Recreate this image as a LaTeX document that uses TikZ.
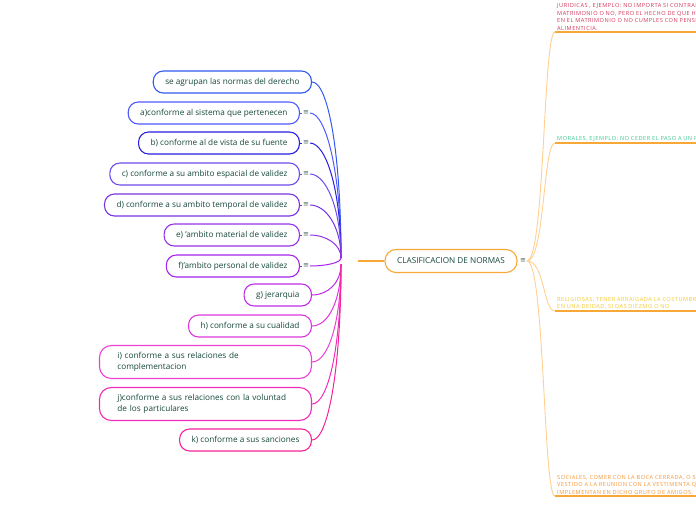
\documentclass[tikz,border=0pt]{standalone}
\usepackage{fontspec}
\setmainfont{Open Sans}
\newfontfamily\symfont{DejaVu Sans}
\newfontfamily\notefont[LetterSpace=9]{Open Sans}
\usetikzlibrary{positioning,calc}
\definecolor{txtgreen}{RGB}{22,72,60}
\definecolor{menugray}{RGB}{70,100,90}
\definecolor{ctrorange}{RGB}{247,168,55}
\definecolor{twigorange}{RGB}{255,208,145}
\definecolor{cSe}{RGB}{50,90,240}
\definecolor{cA}{RGB}{80,90,250}
\definecolor{cB}{RGB}{40,30,225}
\definecolor{cC}{RGB}{110,75,235}
\definecolor{cD}{RGB}{120,50,225}
\definecolor{cE}{RGB}{150,50,230}
\definecolor{cF}{RGB}{165,35,235}
\definecolor{cG}{RGB}{190,45,230}
\definecolor{cH}{RGB}{220,55,220}
\definecolor{cI}{RGB}{235,65,215}
\definecolor{cJ}{RGB}{240,45,185}
\definecolor{cK}{RGB}{245,35,150}
\definecolor{cJur}{RGB}{210,55,90}
\definecolor{cMor}{RGB}{60,200,140}
\definecolor{cRel}{RGB}{245,200,40}
\definecolor{cSoc}{RGB}{245,150,55}
\tikzset{
  branch/.style={draw=#1, line width=1.1pt, rounded corners=10pt, fill=white,
    inner xsep=12pt, minimum height=22pt, font=\fontsize{8.2}{10.5}\selectfont,
    text=txtgreen, align=left, anchor=east},
  twoline/.style={text width=176pt, inner xsep=18pt, minimum height=33pt, rounded corners=12pt},
  topic/.style={draw=ctrorange, line width=1.1pt, rounded corners=11pt, fill=white,
    minimum width=132pt, minimum height=23pt, font=\fontsize{8.2}{9}\selectfont, text=txtgreen},
  menu/.style={font=\symfont\fontsize{7}{7}\selectfont, text=menugray, inner sep=0.8pt},
  link/.style={line width=1pt, #1},
  stubln/.style={line width=1.2pt, ctrorange},
  twig/.style={line width=0.9pt, twigorange},
  noteline/.style={line width=1.6pt, ctrorange},
  note/.style={anchor=south west, inner xsep=2pt, inner ysep=1.5pt, text width=200pt,
    align=left, text=#1, font=\notefont\fontsize{5.6}{7.5}\selectfont},
}
\begin{document}
\begin{tikzpicture}[x=1pt,y=-1pt]
\useasboundingbox (0,0) rectangle (696,520);
\clip (0,0) rectangle (696,520);
% central topic
\node[topic] (clas) at (451,261) {CLASIFICACION DE NORMAS};
\node[menu, right=1.5pt of clas] (clasm) {≡};
\coordinate (hubup) at (341,258);
\coordinate (hubdn) at (341,264);
\coordinate (stub) at (358,261);
\draw[stubln] (stub) -- (clas.west);
% left branches
\node[branch=cSe] (se) at (312,82) {se agrupan las normas del derecho};
\node[branch=cA] (ca) at (300,113) {a)conforme al sistema que pertenecen};
\node[branch=cB] (cb) at (300,143) {b) conforme al de vista de su fuente};
\node[branch=cC] (cc) at (300,174) {c) conforme a su ambito espacial de validez};
\node[branch=cD] (cd) at (300,205) {d) conforme a su ambito temporal de validez};
\node[branch=cE] (ce) at (300,235) {e) 'ambito material de validez};
\node[branch=cF] (cf) at (300,266) {f)'ambito personal de validez};
\node[branch=cG] (cg) at (312,295) {g) jerarquia};
\node[branch=cH] (ch) at (312,326) {h) conforme a su cualidad};
\node[branch=cI, twoline] (ci) at (312,362) {i) conforme a sus relaciones de\\complementacion};
\node[branch=cJ, twoline] (cj) at (312,404) {j)conforme a sus relaciones con la voluntad\\de los particulares};
\node[branch=cK] (ck) at (312,440) {k) conforme  a sus sanciones};
% collapsed-menu marks
\foreach \n/\c in {ca/cA,cb/cB,cc/cC,cd/cD,ce/cE,cf/cF} {
  \node[menu, right=2pt of \n] (\n m) {≡};
  \draw[link=\c] (\n.east) -- (\n m.west);
}
% connectors to the hub
\foreach \s/\c/\h in {se/cSe/hubup, cam/cA/hubup, cbm/cB/hubup, ccm/cC/hubup,
    cdm/cD/hubup, cem/cE/hubup, cfm/cF/hubup, cg/cG/hubdn, ch/cH/hubdn,
    ci/cI/hubdn, cj/cJ/hubdn, ck/cK/hubdn}
  \draw[link=\c] (\s.east) .. controls +(16,0) and ($(\h)!0.6!(\h |- \s.east)$) .. (\h);
% right branches
\node[note=cJur] (jur) at (555,32) {JURIDICAS , EJEMPLO: NO IMPORTA SI CONTRAES\\MATRIMONIO O NO, PERO EL HECHO DE QUE HAS\\EN EL MATRIMONIO O NO CUMPLES CON PENSION\\ALIMENTICIA.};
\node[note=cMor] (mor) at (555,143) {MORALES,  EJEMPLO: NO CEDER EL PASO A UN P};
\node[note=cRel] (rel) at (555,311) {RELIGIOSAS, TENER ARRAIGADA LA COSTUMBRE\\EN UNA DEIDAD, SI DAS DIEZMO O NO};
\node[note=cSoc] (soc) at (555,496) {SOCIALES, COMER CON LA BOCA CERRADA, O SI\\VESTIDO A LA REUNION CON LA VESTIMENTA QU\\IMPLEMENTAN EN DICHO GRUPO DE AMIGOS.};
\foreach \n in {jur,mor,rel,soc} {
  \draw[twig] (clasm.east) .. controls +(18,0) and ($(\n.south west)+(-12,0)$) .. (\n.south west);
  \draw[noteline] (\n.south west) -- (\n.south east);
}
\end{tikzpicture}
\end{document}
